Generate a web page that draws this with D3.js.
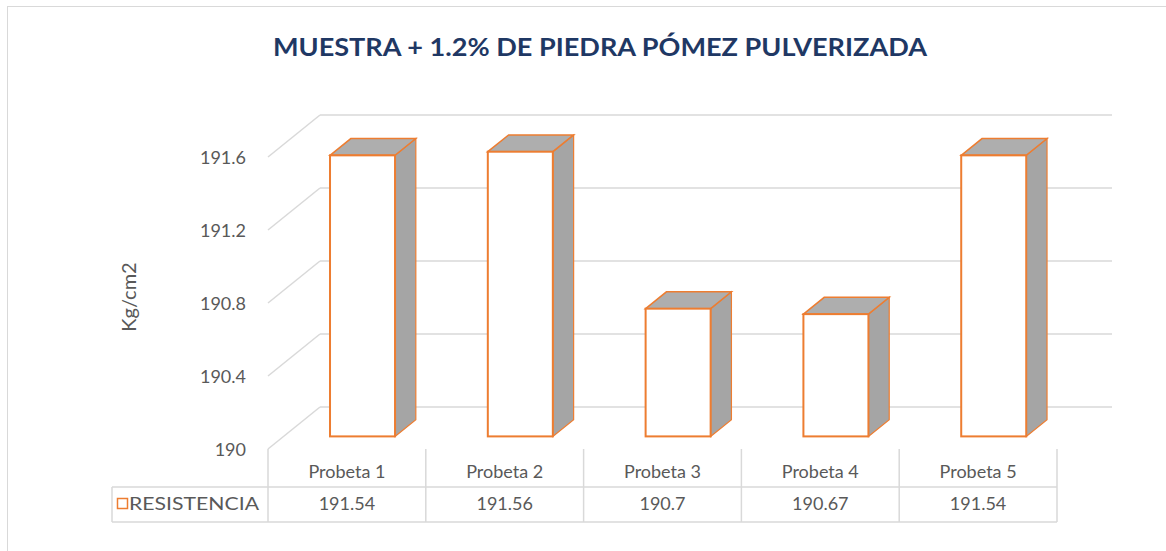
<!DOCTYPE html>
<html>
<head>
<meta charset="utf-8">
<script src="https://cdn.jsdelivr.net/npm/d3@7"></script>
<style>
  body { margin: 0; background: #fff; }
  svg text { font-family: Lato, "Open Sans", sans-serif; fill: #595959; }
</style>
</head>
<body>
<svg id="chart" width="1166" height="551"></svg>
<script>
var categories = ['Probeta 1', 'Probeta 2', 'Probeta 3', 'Probeta 4', 'Probeta 5'];
var resistencia = [191.54, 191.56, 190.7, 190.67, 191.54];
var yTicks = [190, 190.4, 190.8, 191.2, 191.6];
var seriesName = 'RESISTENCIA';
var chartTitle = 'MUESTRA + 1.2% DE PIEDRA PÓMEZ PULVERIZADA';

var svg = d3.select('#chart');
var grid = '#d9d9d9';
var orange = '#ed7d31';

// chart area frame
svg.append('rect')
    .attr('x', 7.5).attr('y', 6.5)
    .attr('width', 1200).attr('height', 600)
    .attr('fill', 'none').attr('stroke', '#d9d9d9');

svg.append('text')
    .attr('x', 600).attr('y', 56)
    .attr('text-anchor', 'middle')
    .attr('textLength', 654).attr('lengthAdjust', 'spacingAndGlyphs')
    .style('font-size', '25px').style('font-weight', 'bold')
    .style('fill', '#1f3864')
    .text(chartTitle);

// front plane scales, depth is the shift to the back wall
var x = d3.scaleBand().domain(categories).range([268, 1057]);
var y = d3.scaleLinear().domain([190, 191.6]).range([449, 157]);
var depth = {dx: 52, dy: -42};

// back wall gridlines
svg.append('g').selectAll('line').data(yTicks).join('line')
    .attr('x1', x.range()[0] + depth.dx).attr('x2', x.range()[1] + depth.dx + 3)
    .attr('y1', function(d) { return y(d) + depth.dy; })
    .attr('y2', function(d) { return y(d) + depth.dy; })
    .attr('stroke', grid).attr('stroke-width', 1.5);

// side wall gridlines
svg.append('g').selectAll('line').data(yTicks).join('line')
    .attr('x1', x.range()[0]).attr('x2', x.range()[0] + depth.dx)
    .attr('y1', function(d) { return y(d); })
    .attr('y2', function(d) { return y(d) + depth.dy; })
    .attr('stroke', grid).attr('stroke-width', 1.5);

// y axis labels
var yAxis = svg.append('g')
    .attr('transform', 'translate(250,1)')
    .call(d3.axisLeft(y).tickValues(yTicks).tickSize(0).tickPadding(4)
        .tickFormat(function(d) { return String(+d.toFixed(1)); }));
yAxis.select('.domain').remove();
yAxis.selectAll('text').style('font-size', '18px')
    .style('font-family', 'Lato, sans-serif').attr('fill', '#595959');

svg.append('text')
    .attr('transform', 'translate(136,297) rotate(-90)')
    .attr('text-anchor', 'middle')
    .style('font-size', '20px')
    .text('Kg/cm2');

// 3d bars
var bw = x.bandwidth();
var f0 = 0.3, f1 = 0.7; // bar depth from front to back
function bx(c) { return x(c) + bw * 0.393; }
var faceW = bw * 0.412;
var bdx = (f1 - f0) * depth.dx, bdy = (f1 - f0) * depth.dy;

var bars = svg.append('g').selectAll('g')
    .data(categories.map(function(c, i) { return {c: c, v: resistencia[i]}; }))
    .join('g');

bars.each(function(d) {
    var g = d3.select(this);
    var x0 = bx(d.c), x1 = x0 + faceW;
    var top = y(d.v) + f0 * depth.dy, bot = y(190) + f0 * depth.dy;
    g.append('polygon')
        .attr('points', [[x1, top], [x1 + bdx, top + bdy], [x1 + bdx, bot + bdy], [x1, bot]].join(' '))
        .attr('fill', '#a5a5a5').attr('stroke', orange).attr('stroke-width', 1.2);
    g.append('polygon')
        .attr('points', [[x0, top], [x0 + bdx, top + bdy], [x1 + bdx, top + bdy], [x1, top]].join(' '))
        .attr('fill', '#aeaeae').attr('stroke', orange).attr('stroke-width', 1.5);
    g.append('rect')
        .attr('x', x0).attr('y', top)
        .attr('width', faceW).attr('height', bot - top)
        .attr('fill', '#fff').attr('stroke', orange).attr('stroke-width', 2);
});

// data table
var tLeft = 112, tMid = 487, tBot = 522, tTop = 449;
var table = svg.append('g').attr('stroke', grid).attr('stroke-width', 1.5);
var bounds = categories.map(function(c) { return x(c); }).concat([x.range()[1]]);
table.selectAll('.v').data(bounds).join('line')
    .attr('x1', function(d) { return d; }).attr('x2', function(d) { return d; })
    .attr('y1', tTop).attr('y2', tBot);
table.append('line').attr('x1', tLeft).attr('x2', x.range()[1]).attr('y1', tMid).attr('y2', tMid);
table.append('line').attr('x1', tLeft).attr('x2', x.range()[1]).attr('y1', tBot).attr('y2', tBot);
table.append('line').attr('x1', tLeft).attr('x2', tLeft).attr('y1', tMid).attr('y2', tBot);

svg.append('g').selectAll('text').data(categories).join('text')
    .attr('x', function(d) { return x(d) + bw / 2; })
    .attr('y', 478)
    .attr('text-anchor', 'middle')
    .style('font-size', '18px')
    .text(function(d) { return d; });

svg.append('g').selectAll('text').data(resistencia).join('text')
    .attr('x', function(d, i) { return x(categories[i]) + bw / 2; })
    .attr('y', 510)
    .attr('text-anchor', 'middle')
    .style('font-size', '18px')
    .text(function(d) { return String(d); });

svg.append('rect')
    .attr('x', 117.5).attr('y', 498.5).attr('width', 10).attr('height', 10)
    .attr('fill', '#fff').attr('stroke', orange).attr('stroke-width', 1.5);
svg.append('text')
    .attr('x', 129).attr('y', 510)
    .attr('textLength', 130).attr('lengthAdjust', 'spacingAndGlyphs')
    .style('font-size', '18px')
    .text(seriesName);
</script>
</body>
</html>
